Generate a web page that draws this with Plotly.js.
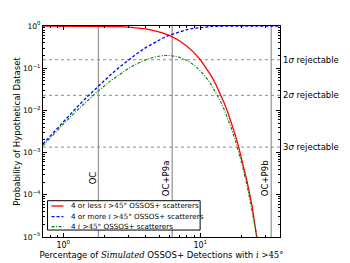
<!DOCTYPE html>
<html>
<head>
<meta charset="utf-8">
<script src="https://cdn.plot.ly/plotly-3.0.1.min.js"></script>
<style>html,body{margin:0;padding:0;background:#fff;}#chart{width:350px;height:263px;}</style>
</head>
<body>
<div id="chart"></div>
<script>
// Percentage of simulated OSSOS+ detections with i>45 deg (x axis)
const pct = [0.71, 0.85, 1.0, 1.25, 1.5, 1.8, 2.2, 2.6, 3.0, 3.5, 4.0, 4.6, 5.3, 6.0, 7.0, 8.0, 9.0, 10, 11, 12, 13, 14, 15, 16, 17, 18, 19, 20, 22, 24, 26, 28, 30, 34, 38.2];
// 4 or less i>45 scatterers
const probLess = [0.99985, 0.99966, 0.99929, 0.99812, 0.99586, 0.99137, 0.98096, 0.96436, 0.94066, 0.90123, 0.85147, 0.78031, 0.68685, 0.58888, 0.45245, 0.33204, 0.23396, 0.15879, 0.10429, 0.066448, 0.04118, 0.024865, 0.014658, 0.0084477, 0.0047643, 0.0026325, 0.0014262, 0.00075799, 0.0002026, 0.000050408, 0.0000117, 0.0000025, 0.00000052, 0.000000035, 0.0000000015];
// 4 or more i>45 scatterers
const probMore = [0.0016, 0.00306, 0.00543, 0.01164, 0.02126, 0.03766, 0.06852, 0.10929, 0.15881, 0.22978, 0.30718, 0.40313, 0.51199, 0.61135, 0.73065, 0.82097, 0.88521, 0.92877, 0.95704, 0.97475, 0.98552, 0.99187, 0.99554, 0.9976, 0.99873, 0.99934, 0.99966, 0.99983, 0.99996, 0.99999, 1.0, 1.0, 1.0, 1.0, 1.0];
// exactly 4 i>45 scatterers
const probExact = [0.001456, 0.002725, 0.004723, 0.009759, 0.017117, 0.029027, 0.04948, 0.073645, 0.099474, 0.13101, 0.15864, 0.18344, 0.19884, 0.20023, 0.1831, 0.15301, 0.11917, 0.087563, 0.061329, 0.041203, 0.026696, 0.01674, 0.010194, 0.0060431, 0.0034935, 0.0019729, 0.0010898, 0.00058935, 0.00016229, 0.000041386, 0.000009807, 0.0000021621, 0.00000045, 0.00000003, 0.0000000013];

const seriesNames = ['4 or less', '4 or more', '4'];
const modelNames = ['OC', 'OC+P9a', 'OC+P9b'];
const modelPct = [1.805, 6.24, 32.96];
const sigmaLabels = ['1σ rejectable', '2σ rejectable', '3σ rejectable'];
const sigmaProb = [0.1587, 0.02275, 0.00135];
const yTickVals = [1, 0.1, 0.01, 0.001, 0.0001, 0.00001];
const yTickText = ['10<sup>0</sup>', '10<sup>−1</sup>', '10<sup>−2</sup>', '10<sup>−3</sup>', '10<sup>−4</sup>', '10<sup>−5</sup>'];
const xTickVals = [1, 10];
const xTickText = ['10<sup>0</sup>', '10<sup>1</sup>'];

const FONT = 'DejaVu Sans, sans-serif';
const SERIF = 'DejaVu Serif';
const mathI = '<span style="font-family:' + SERIF + '"><i>i</i> &gt;45°</span>';

const colors = ['#ff0000', '#0000ff', '#008000'];
const dashes = ['solid', '3px,2px', '3px,1.5px,1px,1.5px'];
const widths = [1.3, 1.3, 1.1];
const ys = [probLess, probMore, probExact];

const traces = ys.map((y, i) => ({
  x: pct, y: y, type: 'scatter', mode: 'lines', name: seriesNames[i],
  line: {color: colors[i], width: widths[i], dash: dashes[i]},
  showlegend: false, hoverinfo: 'skip'
}));

const shapes = [];
const annotations = [];

modelPct.forEach((v, i) => {
  shapes.push({type: 'line', xref: 'x', yref: 'paper', x0: v, x1: v, y0: 0, y1: 1,
    line: {color: '#9a9a9a', width: 1.3}, layer: 'below'});
  annotations.push({xref: 'x', yref: 'paper', x: Math.log10(v), y: 0.28, text: modelNames[i],
    textangle: -90, showarrow: false, xanchor: 'center', yanchor: 'middle', xshift: -6,
    font: {family: FONT, size: 8.5, color: '#000'}});
});

sigmaProb.forEach((v, i) => {
  shapes.push({type: 'line', xref: 'paper', yref: 'y', x0: 0, x1: 1, y0: v, y1: v,
    line: {color: '#8a8a8a', width: 1, dash: 'dot'}, layer: 'below'});
  annotations.push({xref: 'paper', yref: 'y', x: 1, y: Math.log10(v),
    text: sigmaLabels[i].replace('σ', '<i>σ</i>'),
    showarrow: false, xanchor: 'left', yanchor: 'middle', xshift: 1,
    font: {family: FONT, size: 8.5, color: '#000'}});
});

// legend (drawn as box + samples + labels)
const legText = [
  '4 or less ' + mathI + ' OSSOS+ scatterers',
  '4 or more ' + mathI + ' OSSOS+ scatterers',
  '4 ' + mathI + ' OSSOS+ scatterers'
];
const legRowY = [0.147, 0.097, 0.049];
shapes.push({type: 'rect', xref: 'paper', yref: 'paper', x0: 0.019, x1: 0.663, y0: 0.033, y1: 0.172,
  line: {color: '#000', width: 1}, fillcolor: '#fff', layer: 'above'});
legRowY.forEach((yy, i) => {
  shapes.push({type: 'line', xref: 'paper', yref: 'paper', x0: 0.036, x1: 0.086, y0: yy, y1: yy,
    line: {color: colors[i], width: widths[i], dash: dashes[i]}, layer: 'above'});
  annotations.push({xref: 'paper', yref: 'paper', x: 0.11, y: yy, text: legText[i],
    showarrow: false, xanchor: 'left', yanchor: 'middle',
    font: {family: FONT, size: 7.2, color: '#000'}});
});

const minorX = [0.8, 0.9, 2, 3, 4, 5, 6, 7, 8, 9, 20, 30];
const minorY = [];
[1e-5, 1e-4, 1e-3, 1e-2, 1e-1].forEach(d => { for (let k = 2; k <= 9; k++) minorY.push(k * d); });

const layout = {
  width: 350, height: 263,
  margin: {l: 43, r: 70, t: 26, b: 26, pad: 0},
  paper_bgcolor: '#fff', plot_bgcolor: '#fff',
  font: {family: FONT, size: 8.5, color: '#000'},
  showlegend: false,
  xaxis: {
    type: 'log', range: [Math.log10(0.711), Math.log10(38.2)],
    tickvals: xTickVals, ticktext: xTickText, ticks: 'inside', ticklen: 4, tickcolor: '#000',
    showline: true, linecolor: '#000', linewidth: 1, mirror: 'ticks', showgrid: false, zeroline: false,
    tickfont: {family: FONT, size: 8},
    minor: {tickvals: minorX, ticks: 'inside', ticklen: 2, tickcolor: '#000', showgrid: false},
    title: {text: 'Percentage of <span style="font-family:' + SERIF + '"><i>Simulated</i></span> OSSOS+ Detections with ' + mathI,
      font: {family: FONT, size: 8.5}, standoff: 0},
    automargin: false
  },
  yaxis: {
    type: 'log', range: [-5, 0],
    tickvals: yTickVals, ticktext: yTickText, ticks: 'inside', ticklen: 4, tickcolor: '#000',
    showline: true, linecolor: '#000', linewidth: 1, mirror: 'ticks', showgrid: false, zeroline: false,
    tickfont: {family: FONT, size: 7.6},
    minor: {tickvals: minorY, ticks: 'inside', ticklen: 2, tickcolor: '#000', showgrid: false},
    title: {text: 'Probability of Hypothetical Dataset', font: {family: FONT, size: 8.5}, standoff: 0},
    automargin: false
  },
  shapes: shapes,
  annotations: annotations
};

Plotly.newPlot('chart', traces, layout, {displayModeBar: false, staticPlot: true});
</script>
</body>
</html>
